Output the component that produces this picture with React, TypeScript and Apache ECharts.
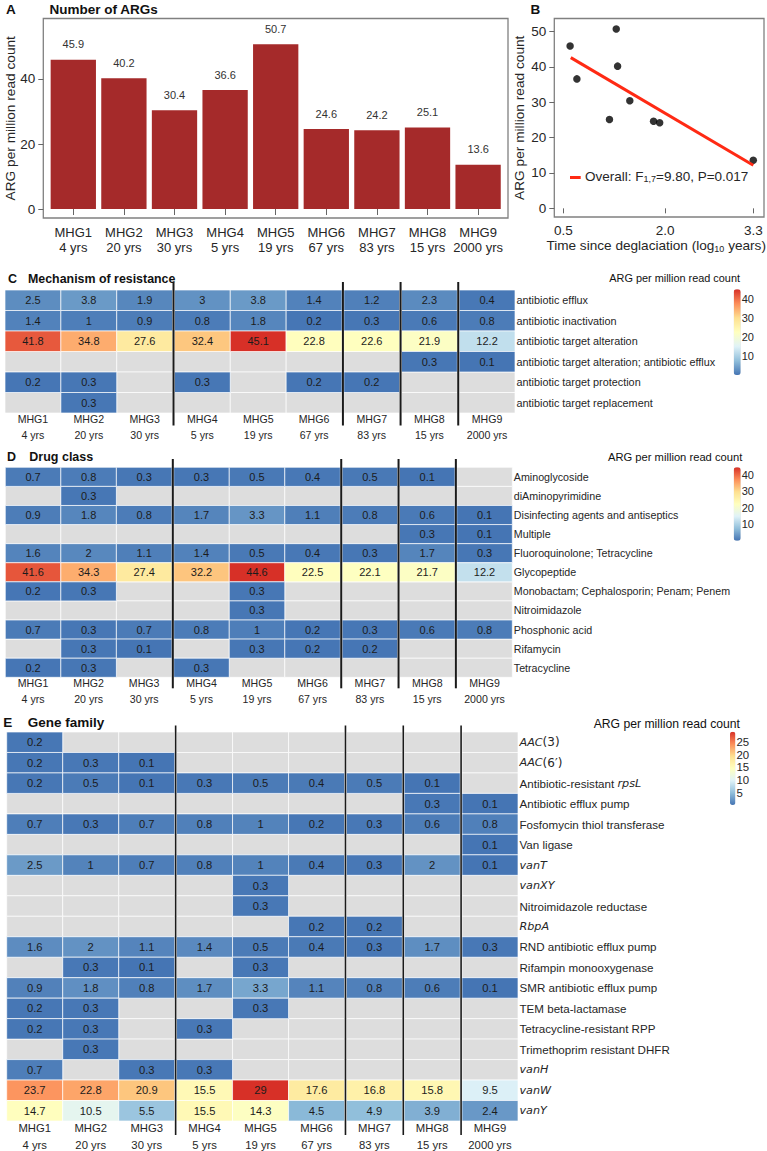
import React, { useEffect, useRef } from 'react';
import * as echarts from 'echarts';

const _ = null;

const mhgNames = ['MHG1', 'MHG2', 'MHG3', 'MHG4', 'MHG5', 'MHG6', 'MHG7', 'MHG8', 'MHG9'];
const mhgAges = ['4 yrs', '20 yrs', '30 yrs', '5 yrs', '19 yrs', '67 yrs', '83 yrs', '15 yrs', '2000 yrs'];

// panel A + B
const argTotals = [45.9, 40.2, 30.4, 36.6, 50.7, 24.6, 24.2, 25.1, 13.6];
const logYears = [0.6, 1.3, 1.48, 0.7, 1.28, 1.83, 1.92, 1.18, 3.3];
const fitLine = [[0.61, 42.6], [3.3, 12.2]];

// panel C
const mechanismRows = [
  'antibiotic efflux',
  'antibiotic inactivation',
  'antibiotic target alteration',
  'antibiotic target alteration; antibiotic efflux',
  'antibiotic target protection',
  'antibiotic target replacement'
];
const mechanismValues = [
  [2.5, 3.8, 1.9, 3, 3.8, 1.4, 1.2, 2.3, 0.4],
  [1.4, 1, 0.9, 0.8, 1.8, 0.2, 0.3, 0.6, 0.8],
  [41.8, 34.8, 27.6, 32.4, 45.1, 22.8, 22.6, 21.9, 12.2],
  [_, _, _, _, _, _, _, 0.3, 0.1],
  [0.2, 0.3, _, 0.3, _, 0.2, 0.2, _, _],
  [_, 0.3, _, _, _, _, _, _, _]
];

// panel D
const drugRows = [
  'Aminoglycoside',
  'diAminopyrimidine',
  'Disinfecting agents and antiseptics',
  'Multiple',
  'Fluoroquinolone; Tetracycline',
  'Glycopeptide',
  'Monobactam; Cephalosporin; Penam; Penem',
  'Nitroimidazole',
  'Phosphonic acid',
  'Rifamycin',
  'Tetracycline'
];
const drugValues = [
  [0.7, 0.8, 0.3, 0.3, 0.5, 0.4, 0.5, 0.1, _],
  [_, 0.3, _, _, _, _, _, _, _],
  [0.9, 1.8, 0.8, 1.7, 3.3, 1.1, 0.8, 0.6, 0.1],
  [_, _, _, _, _, _, _, 0.3, 0.1],
  [1.6, 2, 1.1, 1.4, 0.5, 0.4, 0.3, 1.7, 0.3],
  [41.6, 34.3, 27.4, 32.2, 44.6, 22.5, 22.1, 21.7, 12.2],
  [0.2, 0.3, _, _, 0.3, _, _, _, _],
  [_, _, _, _, 0.3, _, _, _, _],
  [0.7, 0.3, 0.7, 0.8, 1, 0.2, 0.3, 0.6, 0.8],
  [_, 0.3, 0.1, _, 0.3, 0.2, 0.2, _, _],
  [0.2, 0.3, _, 0.3, _, _, _, _, _]
];

// panel E
const geneRows = [
  'AAC(3)',
  'AAC(6′)',
  'Antibiotic-resistant rpsL',
  'Antibiotic efflux pump',
  'Fosfomycin thiol transferase',
  'Van ligase',
  'vanT',
  'vanXY',
  'Nitroimidazole reductase',
  'RbpA',
  'RND antibiotic efflux pump',
  'Rifampin monooxygenase',
  'SMR antibiotic efflux pump',
  'TEM beta-lactamase',
  'Tetracycline-resistant RPP',
  'Trimethoprim resistant DHFR',
  'vanH',
  'vanW',
  'vanY'
];
const geneValues = [
  [0.2, _, _, _, _, _, _, _, _],
  [0.2, 0.3, 0.1, _, _, _, _, _, _],
  [0.2, 0.5, 0.1, 0.3, 0.5, 0.4, 0.5, 0.1, _],
  [_, _, _, _, _, _, _, 0.3, 0.1],
  [0.7, 0.3, 0.7, 0.8, 1, 0.2, 0.3, 0.6, 0.8],
  [_, _, _, _, _, _, _, _, 0.1],
  [2.5, 1, 0.7, 0.8, 1, 0.4, 0.3, 2, 0.1],
  [_, _, _, _, 0.3, _, _, _, _],
  [_, _, _, _, 0.3, _, _, _, _],
  [_, _, _, _, _, 0.2, 0.2, _, _],
  [1.6, 2, 1.1, 1.4, 0.5, 0.4, 0.3, 1.7, 0.3],
  [_, 0.3, 0.1, _, 0.3, _, _, _, _],
  [0.9, 1.8, 0.8, 1.7, 3.3, 1.1, 0.8, 0.6, 0.1],
  [0.2, 0.3, _, _, 0.3, _, _, _, _],
  [0.2, 0.3, _, 0.3, _, _, _, _, _],
  [_, 0.3, _, _, _, _, _, _, _],
  [0.7, _, 0.3, 0.3, _, _, _, _, _],
  [23.7, 22.8, 20.9, 15.5, 29, 17.6, 16.8, 15.8, 9.5],
  [14.7, 10.5, 5.5, 15.5, 14.3, 4.5, 4.9, 3.9, 2.4]
];

// columns after which the heatmaps have a small gap with a black rule in it
const separators = [3, 6, 7, 8];
const GAP = 0.032; // in column widths

const RDYLBU = ['#4575B4', '#91BFDB', '#E0F3F8', '#FFFFBF', '#FEE090', '#FC8D59', '#D73027'];
const FONT = 'Liberation Sans';
const INK = '#262626';
const FRAME = '#808080';

const gapsBefore = (col: number) => separators.filter((s) => s <= col).length;
const columnCenters = mhgNames.map((_n, i) => i + 0.5 + gapsBefore(i) * GAP);
const xMax = mhgNames.length + separators.length * GAP;
const separatorPositions = separators.map((s) => s + (gapsBefore(s) - 1) * GAP + GAP / 2);

const twoLineLabel = (i: number) => `${mhgNames[i]}\n${mhgAges[i]}`;
const columnOfValue = (v: number) => columnCenters.findIndex((c) => Math.abs(c - v) < 0.25);

const geneRich = (name: string) => {
  if (name.startsWith('AAC')) return `{i|AAC}{m|${name.slice(3)}}`;
  if (name.endsWith(' rpsL')) return '{n|Antibiotic-resistant }{i|rpsL}';
  if (/^van[A-Z]/.test(name) || name === 'RbpA') return `{i|${name}}`;
  return `{n|${name}}`;
};

function buildOption() {
  const grids: any[] = [];
  const xAxes: any[] = [];
  const yAxes: any[] = [];
  const series: any[] = [];
  const visualMaps: any[] = [];
  const graphics: any[] = [];

  const addText = (text: string, x: number, y: number, font: string, align = 'left') => {
    graphics.push({
      type: 'text',
      x,
      y,
      silent: true,
      style: { text, font, fill: '#111', align, verticalAlign: 'middle' }
    });
  };

  // ---- A: bars
  graphics.push({
    type: 'rect',
    silent: true,
    shape: { x: 43.3, y: 18.5, width: 464.7, height: 199.5 },
    style: { fill: 'none', stroke: FRAME, lineWidth: 1.3 }
  });
  grids.push({ left: 48, top: 18.5, width: 455.4, height: 199.5, outerBoundsMode: 'none' });
  xAxes.push({
    type: 'category',
    gridIndex: 0,
    data: mhgNames.map((_n, i) => twoLineLabel(i)),
    splitLine: { show: false },
    axisLine: { show: false },
    axisTick: { show: true, alignWithLabel: true, length: 6, lineStyle: { color: '#666' } },
    axisLabel: { interval: 0, fontSize: 13, lineHeight: 15, margin: 6.5, color: INK }
  });
  yAxes.push({
    type: 'value',
    gridIndex: 0,
    min: -2.76,
    max: 58.6,
    offset: 4.7,
    name: 'ARG per million read count',
    nameLocation: 'middle',
    nameGap: 26,
    nameMoveOverlap: false,
    nameTextStyle: { fontSize: 13.7, color: INK },
    splitLine: { show: false },
    axisLine: { show: false },
    axisTick: { show: true, length: 5, lineStyle: { color: '#666' }, customValues: [0, 20, 40] },
    axisLabel: { customValues: [0, 20, 40], fontSize: 13.5, margin: 8, color: INK }
  });
  series.push({
    type: 'bar',
    xAxisIndex: 0,
    yAxisIndex: 0,
    barWidth: 45.3,
    itemStyle: { color: '#A52A2A' },
    label: { show: true, position: 'top', distance: 10, fontSize: 11, color: '#333', formatter: (p: any) => p.value.toFixed(1) },
    data: argTotals
  });

  // ---- B: scatter with fit
  grids.push({ left: 554.3, top: 18.5, width: 209.7, height: 198.5, show: true, borderColor: FRAME, borderWidth: 1.3, outerBoundsMode: 'none' });
  xAxes.push({
    type: 'value',
    gridIndex: 1,
    min: 0.367,
    max: 3.458,
    splitLine: { show: false },
    axisLine: { show: false },
    axisTick: { show: true, length: 5, lineStyle: { color: '#666' }, customValues: [0.5, 2, 3.3] },
    axisLabel: { customValues: [0.5, 2, 3.3], formatter: (v: number) => v.toFixed(1), fontSize: 13.5, margin: 6, color: INK },
    name: '{n|Time since deglaciation (log}{s|10}{n| years)}',
    nameLocation: 'middle',
    nameGap: 21,
    nameTextStyle: {
      padding: [0, 6, 0, 0],
      rich: {
        n: { fontSize: 13.6, color: INK, fontFamily: FONT },
        s: { fontSize: 9, color: INK, fontFamily: FONT, padding: [6, 0, 0, 0] }
      }
    }
  });
  yAxes.push({
    type: 'value',
    gridIndex: 1,
    min: -2.45,
    max: 53.67,
    name: 'ARG per million read count',
    nameLocation: 'middle',
    nameGap: 27.5,
    nameMoveOverlap: false,
    nameTextStyle: { fontSize: 13.7, color: INK },
    splitLine: { show: false },
    axisLine: { show: false },
    axisTick: { show: true, length: 5, lineStyle: { color: '#666' }, customValues: [0, 10, 20, 30, 40, 50] },
    axisLabel: { customValues: [0, 10, 20, 30, 40, 50], fontSize: 13.5, margin: 8, color: INK }
  });
  series.push({
    type: 'line',
    xAxisIndex: 1,
    yAxisIndex: 1,
    showSymbol: false,
    symbol: 'none',
    lineStyle: { color: '#FF2A14', width: 3 },
    data: fitLine
  });
  series.push({
    type: 'scatter',
    xAxisIndex: 1,
    yAxisIndex: 1,
    symbolSize: 7.5,
    itemStyle: { color: '#000' },
    data: logYears.map((x, i) => [x, argTotals[i]])
  });
  graphics.push({
    type: 'line',
    silent: true,
    shape: { x1: 570, y1: 177.5, x2: 580.7, y2: 177.5 },
    style: { stroke: '#FF2A14', lineWidth: 3 }
  });
  graphics.push({
    type: 'text',
    x: 585,
    y: 176,
    silent: true,
    style: {
      text: '{n|Overall: F}{s|1,7}{n|=9.80, P=0.017}',
      verticalAlign: 'middle',
      rich: {
        n: { font: `13.5px "${FONT}"`, fill: INK },
        s: { font: `9px "${FONT}"`, fill: INK, padding: [6, 0, 0, 0] }
      }
    }
  });

  // ---- C, D, E: heatmaps
  const heatmap = (cfg: any) => {
    const g = grids.length;
    grids.push({ left: cfg.left, top: cfg.top, width: cfg.width, height: cfg.height, outerBoundsMode: 'none' });
    xAxes.push({
      type: 'value',
      gridIndex: g,
      min: 0,
      max: xMax,
      splitLine: { show: false },
      axisLine: { show: false },
      axisTick: { show: false },
      axisLabel: {
        customValues: columnCenters,
        formatter: (v: number) => twoLineLabel(columnOfValue(v)),
        fontSize: cfg.xFont,
        lineHeight: cfg.xLine,
        margin: cfg.xMargin,
        color: INK
      }
    });
    yAxes.push({
      type: 'category',
      gridIndex: g,
      inverse: true,
      position: 'right',
      data: cfg.rows,
      axisLine: { show: false },
      axisTick: { show: false },
      axisLabel: {
        margin: 1.5,
        fontSize: cfg.yFont,
        color: INK,
        interval: 0,
        formatter: cfg.rich ? geneRich : undefined,
        rich: cfg.rich
      }
    });

    const renderCell = (fill: string | null) => (_p: any, api: any) => {
      const [cx, cy] = api.coord([api.value(0), api.value(1)]);
      const [w, h] = api.size([1, 1]);
      const children: any[] = [
        {
          type: 'rect',
          shape: { x: cx - w / 2, y: cy - h / 2, width: w, height: h },
          style: { fill: fill || api.visual('color'), stroke: 'rgba(255,255,255,0.75)', lineWidth: 0.9 }
        }
      ];
      if (!fill) {
        children.push({
          type: 'text',
          style: {
            x: cx,
            y: cy,
            text: String(api.value(2)),
            align: 'center',
            verticalAlign: 'middle',
            font: `${cfg.cellFont}px "${FONT}"`,
            fill: '#1c1c1c'
          }
        });
      }
      return { type: 'group', children };
    };

    const present: any[] = [];
    const missing: any[] = [];
    cfg.values.forEach((row: (number | null)[], r: number) => {
      row.forEach((v, c) => {
        if (v === null) missing.push([columnCenters[c], r]);
        else present.push([columnCenters[c], r, v]);
      });
    });

    series.push({ type: 'custom', xAxisIndex: g, yAxisIndex: g, silent: true, renderItem: renderCell('#DDDDDD'), data: missing });
    const valueSeries = series.length;
    series.push({ type: 'custom', xAxisIndex: g, yAxisIndex: g, silent: true, renderItem: renderCell(null), data: present });
    series.push({
      type: 'custom',
      xAxisIndex: g,
      yAxisIndex: g,
      silent: true,
      z: 5,
      clip: false,
      renderItem: (params: any, api: any) => {
        const x = api.coord([api.value(0), 0])[0];
        const sys = params.coordSys;
        return {
          type: 'line',
          shape: { x1: x, y1: sys.y - cfg.ruleUp, x2: x, y2: sys.y + sys.height + cfg.ruleDown },
          style: { stroke: '#1a1a1a', lineWidth: cfg.ruleWidth }
        };
      },
      data: separatorPositions.map((x) => [x, 0])
    });

    const flat = present.map((d) => d[2]);
    const lo = Math.min(...flat);
    const hi = Math.max(...flat);
    visualMaps.push({
      type: 'continuous',
      seriesIndex: valueSeries,
      dimension: 2,
      min: lo,
      max: hi,
      left: cfg.barLeft,
      top: cfg.barTop,
      itemWidth: cfg.barWidth,
      itemHeight: cfg.barHeight,
      padding: 0,
      calculable: false,
      realtime: false,
      inRange: { color: RDYLBU }
    });

    // axis beside the colour bar, only for its tick labels
    const b = grids.length;
    grids.push({ left: cfg.barLeft, top: cfg.barTop, width: cfg.barWidth, height: cfg.barHeight, outerBoundsMode: 'none' });
    xAxes.push({ type: 'value', gridIndex: b, min: 0, max: 1, show: false });
    yAxes.push({
      type: 'value',
      gridIndex: b,
      position: 'right',
      min: lo,
      max: hi,
      splitLine: { show: false },
      axisLine: { show: false },
      axisTick: { show: false },
      axisLabel: { customValues: cfg.barTicks, fontSize: cfg.barFont, margin: 1, color: INK }
    });

    addText(cfg.legend, cfg.legendRight, cfg.legendY, `${cfg.legendFont}px "${FONT}"`, 'right');
  };

  heatmap({
    rows: mechanismRows,
    values: mechanismValues,
    left: 5,
    top: 290,
    width: 510,
    height: 123,
    xFont: 10.6,
    xLine: 16,
    xMargin: -2,
    yFont: 10.85,
    cellFont: 11,
    ruleUp: 8,
    ruleDown: 12.5,
    ruleWidth: 2,
    barLeft: 733.7,
    barTop: 289.3,
    barWidth: 7,
    barHeight: 85.7,
    barTicks: [10, 20, 30, 40],
    barFont: 11,
    legend: 'ARG per million read count',
    legendRight: 740,
    legendY: 278,
    legendFont: 10.9
  });
  heatmap({
    rows: drugRows,
    values: drugValues,
    left: 5.3,
    top: 467.3,
    width: 507,
    height: 210,
    xFont: 10.6,
    xLine: 16,
    xMargin: -2,
    yFont: 10.7,
    cellFont: 11,
    ruleUp: 8.3,
    ruleDown: 11,
    ruleWidth: 2,
    barLeft: 733.7,
    barTop: 467.3,
    barWidth: 7,
    barHeight: 73.4,
    barTicks: [10, 20, 30, 40],
    barFont: 11,
    legend: 'ARG per million read count',
    legendRight: 742.3,
    legendY: 457.3,
    legendFont: 11.2
  });
  heatmap({
    rows: geneRows,
    values: geneValues,
    left: 6.7,
    top: 732,
    width: 511.3,
    height: 389,
    xFont: 11.3,
    xLine: 17,
    xMargin: -1.2,
    yFont: 11.6,
    cellFont: 11.2,
    ruleUp: 6.5,
    ruleDown: 14,
    ruleWidth: 1.6,
    barLeft: 730,
    barTop: 731.7,
    barWidth: 5.4,
    barHeight: 73.3,
    barTicks: [5, 10, 15, 20, 25],
    barFont: 11.4,
    legend: 'ARG per million read count',
    legendRight: 740,
    legendY: 723.7,
    legendFont: 12.2,
    rich: {
      n: { fontSize: 11.6, color: INK, fontFamily: FONT },
      i: { fontSize: 11.2, color: INK, fontFamily: 'DejaVu Sans', fontStyle: 'italic' },
      m: { fontSize: 12, color: INK, fontFamily: 'DejaVu Sans' }
    }
  });

  // panel letters and titles
  const bold = (size: number) => `bold ${size}px "${FONT}"`;
  addText('A', 6, 9, bold(13.5));
  addText('Number of ARGs', 49.5, 9, bold(13.5));
  addText('B', 530.5, 9, bold(13.5));
  addText('C', 8, 278.5, bold(12.5));
  addText('Mechanism of resistance', 28, 278.5, bold(12.4));
  addText('D', 7, 456.7, bold(12.5));
  addText('Drug class', 29.3, 456.7, bold(12.5));
  addText('E', 3.3, 722.7, bold(13.5));
  addText('Gene family', 27.7, 722.7, bold(13.5));

  return {
    animation: false,
    backgroundColor: '#fff',
    textStyle: { fontFamily: FONT },
    grid: grids,
    xAxis: xAxes,
    yAxis: yAxes,
    visualMap: visualMaps,
    series,
    graphic: { elements: graphics }
  };
}

export default function App() {
  const chartRef = useRef<HTMLDivElement>(null);

  useEffect(() => {
    document.body.style.margin = '0';
    if (!chartRef.current) return;
    const chart = echarts.init(chartRef.current, undefined, { renderer: 'svg' });
    chart.setOption(buildOption() as any);
    return () => chart.dispose();
  }, []);

  return <div ref={chartRef} style={{ width: 767, height: 1151 }} />;
}
